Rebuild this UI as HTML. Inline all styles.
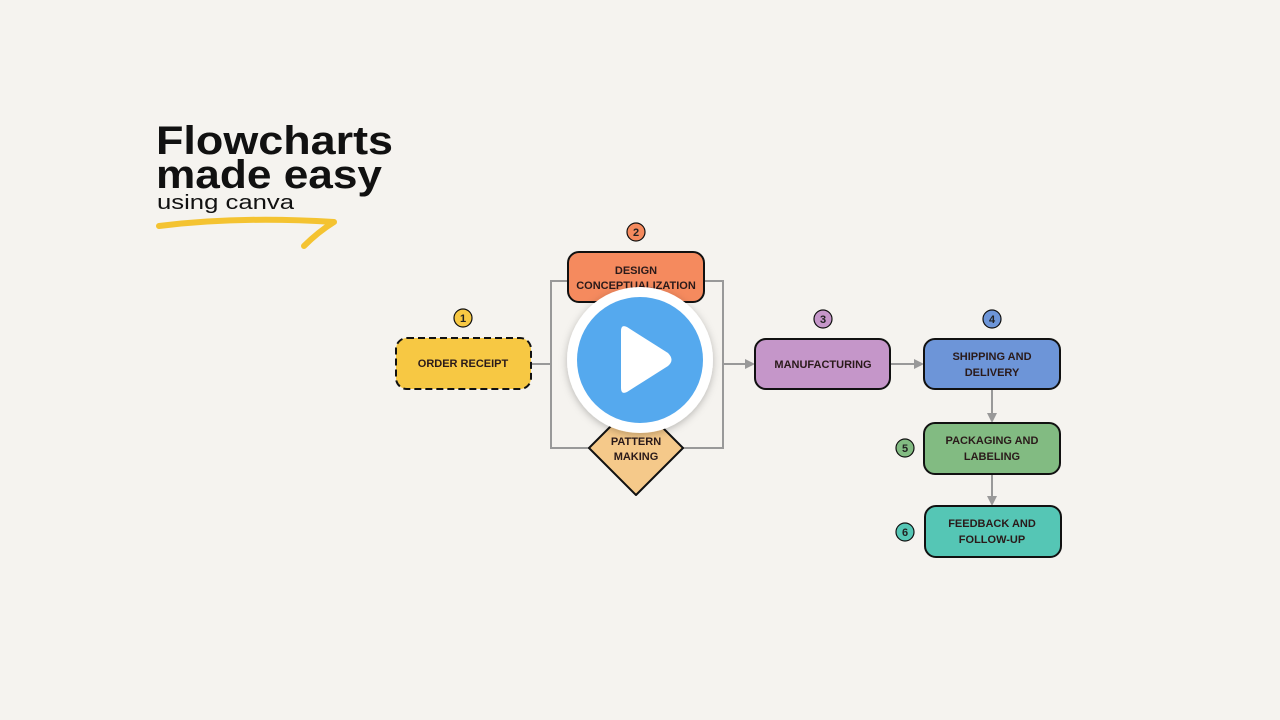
<!DOCTYPE html>
<html><head><style>
body{margin:0;background:#f5f3ef;width:1280px;height:720px;overflow:hidden;font-family:"Liberation Sans",sans-serif;}
svg{position:absolute;left:0;top:0}
.t{font-weight:bold;font-size:11px;fill:#2a1a1a;text-anchor:middle}
.b{font-size:11px;fill:#222;text-anchor:middle;font-weight:bold}
</style></head><body>
<svg width="1280" height="720" viewBox="0 0 1280 720">
<defs><marker id="a" markerWidth="5" markerHeight="5" refX="4" refY="2.5" orient="auto"><path d="M0,0L5,2.5L0,5z" fill="#999"/></marker>
<filter id="sh" x="-30%" y="-30%" width="160%" height="160%"><feDropShadow dx="0" dy="2" stdDeviation="4" flood-opacity="0.25"/></filter></defs>
<text x="156" y="154" font-size="40" font-weight="bold" fill="#111" textLength="237" lengthAdjust="spacingAndGlyphs">Flowcharts</text>
<text x="156" y="188" font-size="40" font-weight="bold" fill="#111" textLength="226" lengthAdjust="spacingAndGlyphs">made easy</text>
<text x="157" y="209" font-size="20" fill="#111" textLength="137" lengthAdjust="spacingAndGlyphs">using canva</text>
<path d="M159,226 Q240,216 334,222 M334,222 Q318,232 304,246" stroke="#f4c331" stroke-width="6" fill="none" stroke-linecap="round"/>
<g stroke="#999" stroke-width="2" fill="none">
<path d="M531,364H551M551,281H723V448H551Z"/>
<path d="M723,364H753" marker-end="url(#a)"/>
<path d="M890,364H922" marker-end="url(#a)"/>
<path d="M992,389V421" marker-end="url(#a)"/>
<path d="M992,474V504" marker-end="url(#a)"/>
</g>
<g stroke="#111" stroke-width="2">
<rect x="396" y="338" width="135" height="51" rx="11" fill="#f7c843" stroke-dasharray="7,4"/>
<rect x="568" y="252" width="136" height="50" rx="11" fill="#f58a5e"/>
<path d="M636,401L683,448L636,495L589,448Z" fill="#f5c98a" stroke-linejoin="round"/>
<rect x="755" y="339" width="135" height="50" rx="11" fill="#c596c9"/>
<rect x="924" y="339" width="136" height="50" rx="11" fill="#6d95d8"/>
<rect x="924" y="423" width="136" height="51" rx="11" fill="#82bb82"/>
<rect x="925" y="506" width="136" height="51" rx="11" fill="#55c6b5"/>
</g>
<g stroke="#111" stroke-width="1.2">
<circle cx="463" cy="318" r="9" fill="#f7c843"/><circle cx="636" cy="232" r="9" fill="#f58a5e"/>
<circle cx="823" cy="319" r="9" fill="#c596c9"/><circle cx="992" cy="319" r="9" fill="#6d95d8"/>
<circle cx="905" cy="448" r="9" fill="#82bb82"/><circle cx="905" cy="532" r="9" fill="#55c6b5"/>
</g>
<text class="b" x="463" y="322">1</text><text class="b" x="636" y="236">2</text>
<text class="b" x="823" y="323">3</text><text class="b" x="992" y="323">4</text>
<text class="b" x="905" y="452">5</text><text class="b" x="905" y="536">6</text>
<text class="t" x="463" y="367">ORDER RECEIPT</text>
<text class="t" x="636" y="274">DESIGN</text><text class="t" x="636" y="289">CONCEPTUALIZATION</text>
<text class="t" x="636" y="445">PATTERN</text><text class="t" x="636" y="460">MAKING</text>
<text class="t" x="823" y="368">MANUFACTURING</text>
<text class="t" x="992" y="360">SHIPPING AND</text><text class="t" x="992" y="376">DELIVERY</text>
<text class="t" x="992" y="444">PACKAGING AND</text><text class="t" x="992" y="460">LABELING</text>
<text class="t" x="992" y="527">FEEDBACK AND</text><text class="t" x="992" y="543">FOLLOW-UP</text>
<circle cx="640" cy="360" r="73" fill="#fff" filter="url(#sh)"/>
<circle cx="640" cy="360" r="63" fill="#55a9ee"/>
<path d="M621,331Q621,324 627,327L668,353Q675,360 668,366L627,392Q621,395 621,388Z" fill="#fff"/>
</svg>
</body></html>
